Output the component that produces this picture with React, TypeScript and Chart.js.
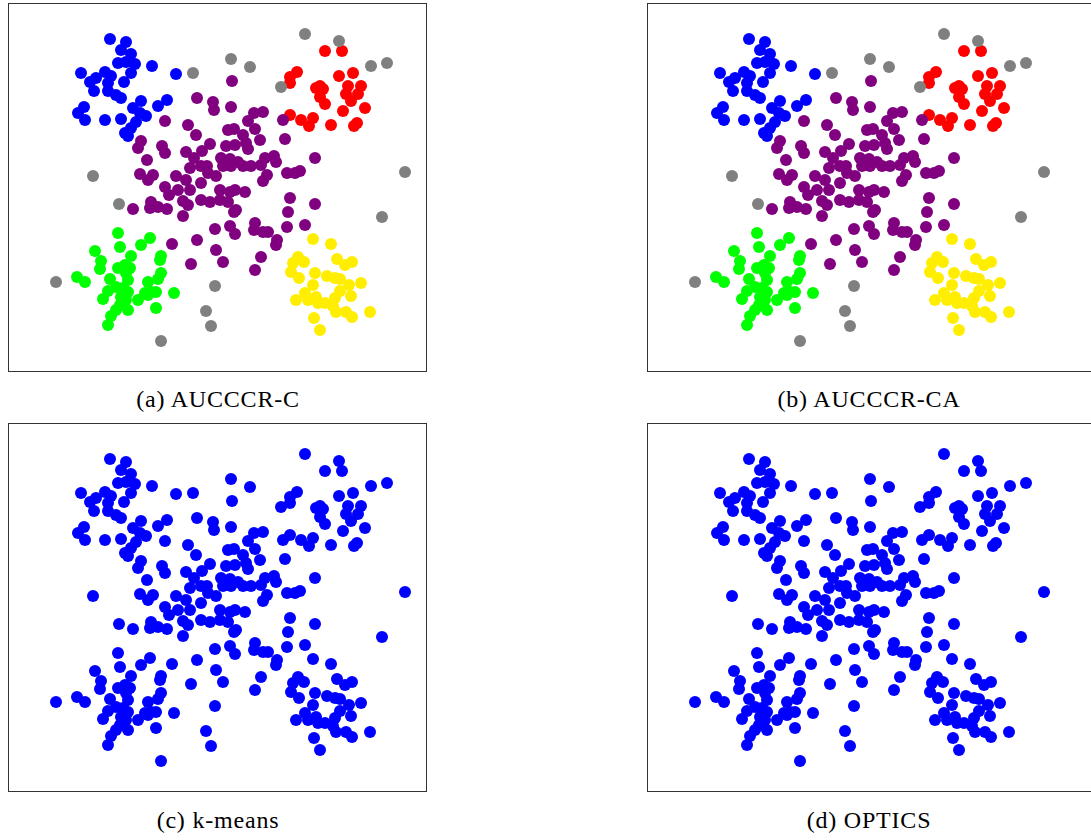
import React, { useEffect, useRef } from "react";
import { Chart, registerables } from "chart.js";
Chart.register(...registerables);

// Cluster points (x, y) (units: arbitrary plot units, y up)
const bluePts: [number, number][] = [
  [102, 333], [118, 330], [113, 322], [123, 318], [110, 309], [118, 310], [127, 308], [123, 299],
  [144, 306], [73, 299], [88, 294], [97, 300], [103, 296], [82, 290], [100, 289], [116, 290],
  [86, 281], [100, 281], [108, 277], [113, 274], [76, 265], [70, 259], [77, 252], [97, 252],
  [113, 253], [133, 271], [125, 264], [132, 259], [138, 256], [128, 250], [123, 244], [117, 239],
  [120, 236], [150, 266], [168, 298], [159, 272],
];
const grayPts: [number, number][] = [
  [185, 299], [223, 313], [242, 305], [273, 285], [297, 338], [331, 331], [363, 306], [379, 309],
  [397, 200], [85, 196], [111, 168], [48, 90], [207, 86], [198, 61], [203, 46], [153, 31], [374, 155],
];
const redPts: [number, number][] = [
  [317, 321], [334, 321], [289, 300], [282, 295], [282, 289], [331, 296], [345, 299], [312, 286],
  [308, 284], [315, 283], [312, 275], [317, 268], [340, 286], [353, 286], [338, 278], [350, 278],
  [343, 271], [335, 261], [357, 264], [282, 257], [293, 252], [305, 254], [301, 246], [323, 247],
  [349, 249], [346, 246],
];
const purplePts: [number, number][] = [
  [133, 231], [130, 224], [139, 212], [132, 198], [140, 192], [224, 291], [189, 274], [205, 270],
  [206, 262], [223, 265], [246, 259], [255, 260], [240, 251], [247, 243], [275, 252], [157, 251],
  [180, 247], [188, 237], [220, 242], [226, 243], [235, 237], [252, 232], [277, 233], [154, 226],
  [157, 219], [178, 220], [194, 221], [202, 228], [218, 226], [227, 227], [238, 229], [240, 223],
  [186, 214], [213, 214], [222, 213], [230, 210], [257, 214], [266, 216], [268, 210], [182, 204],
  [193, 206], [199, 206], [215, 206], [223, 206], [235, 206], [243, 206], [253, 207], [279, 199],
  [145, 197], [168, 196], [178, 192], [200, 199], [208, 196], [193, 189], [259, 197], [255, 191],
  [157, 185], [170, 182], [182, 182], [212, 182], [227, 182], [237, 180], [161, 177], [222, 180],
  [143, 170], [150, 165], [159, 163], [175, 171], [180, 167], [193, 172], [202, 170], [212, 172],
  [220, 170], [228, 162], [226, 160], [175, 156], [142, 164], [282, 174], [280, 160], [207, 143],
  [222, 146], [227, 138], [247, 149], [246, 142], [255, 140], [260, 140], [269, 132], [268, 127],
  [279, 145], [189, 132], [164, 128], [208, 122], [215, 110], [183, 108], [253, 115], [247, 102],
  [125, 163], [307, 168], [297, 147], [307, 214], [287, 199], [292, 201],
];
const greenPts: [number, number][] = [
  [142, 134], [153, 116], [152, 112], [153, 99], [150, 93], [140, 90], [148, 80], [166, 79],
  [140, 77], [148, 64], [110, 139], [112, 125], [87, 121], [93, 111], [92, 103], [123, 116],
  [133, 127], [110, 104], [117, 107], [122, 104], [118, 99], [69, 95], [77, 90], [102, 93],
  [120, 92], [100, 81], [108, 85], [95, 73], [115, 84], [120, 80], [113, 75], [118, 72],
  [130, 72], [137, 79], [143, 80], [112, 67], [120, 62], [108, 62], [103, 56], [100, 47],
];
const yellowPts: [number, number][] = [
  [305, 133], [323, 128], [290, 115], [285, 109], [296, 110], [329, 113], [337, 107], [344, 110],
  [283, 100], [291, 94], [307, 99], [319, 96], [327, 94], [332, 93], [305, 87], [341, 87],
  [353, 89], [332, 81], [343, 76], [297, 79], [288, 72], [300, 72], [308, 75], [310, 69],
  [317, 69], [327, 74], [325, 66], [328, 60], [338, 60], [344, 55], [362, 60], [306, 54], [312, 42],
];

const captions = ["(a) AUCCCR-C", "(b) AUCCCR-CA", "(c) k-means", "(d) OPTICS"];

const clusterSets = [
  { pts: grayPts, color: "#808080" },
  { pts: purplePts, color: "#800080" },
  { pts: bluePts, color: "#0000ff" },
  { pts: redPts, color: "#ff0000" },
  { pts: greenPts, color: "#00ff00" },
  { pts: yellowPts, color: "#ffee00" },
];

const framePlugin = {
  id: "frame",
  afterDraw(chart: any) {
    const { ctx, chartArea } = chart;
    const { left, top, right, bottom } = chartArea;
    ctx.save();
    ctx.strokeStyle = "#333333";
    ctx.lineWidth = 1;
    ctx.strokeRect(left + 0.5, top + 0.5, right - left - 1, bottom - top - 1);
    ctx.restore();
  },
};

const PAD = 2;

function Panel(props: {
  left: number;
  top: number;
  frameW: number;
  frameH: number;
  single: boolean;
}) {
  const ref = useRef<HTMLCanvasElement | null>(null);
  const { left, top, frameW, frameH, single } = props;
  const w = frameW + 2 * PAD;
  const h = frameH + 2 * PAD;
  useEffect(() => {
    if (!ref.current) return;
    const toXY = (p: [number, number][]) => p.map(([x, y]) => ({ x, y }));
    const datasets = single
      ? [
          {
            data: toXY(clusterSets.flatMap((c) => c.pts)),
            backgroundColor: "#0000ff",
            pointRadius: 6,
            pointBorderWidth: 0,
            pointHoverRadius: 6,
          },
        ]
      : clusterSets.map((c) => ({
          data: toXY(c.pts),
          backgroundColor: c.color,
          pointRadius: 6,
          pointBorderWidth: 0,
          pointHoverRadius: 6,
        }));
    const chart = new Chart(ref.current, {
      type: "scatter",
      data: { datasets: datasets as any },
      options: {
        animation: false,
        responsive: false,
        devicePixelRatio: 1,
        events: [],
        layout: { padding: PAD, autoPadding: false } as any,
        plugins: { legend: { display: false }, tooltip: { enabled: false } },
        scales: {
          x: { type: "linear", min: 0, max: frameW, display: false },
          y: { type: "linear", min: 0, max: frameH, display: false },
        },
      },
      plugins: [framePlugin],
    });
    return () => chart.destroy();
  }, [frameW, frameH, single]);
  return (
    <canvas
      ref={ref}
      width={w}
      height={h}
      style={{ position: "absolute", left: left - PAD, top: top - PAD, width: w, height: h }}
    />
  );
}

function Caption(props: { text: string; cx: number; cy: number }) {
  return (
    <div
      style={{
        position: "absolute",
        left: props.cx - 200,
        top: props.cy - 15,
        width: 400,
        height: 30,
        lineHeight: "30px",
        textAlign: "center",
        fontFamily: "'Liberation Serif', serif",
        fontSize: 24,
        letterSpacing: "0.8px",
        color: "#000",
      }}
    >
      {props.text}
    </div>
  );
}

export default function App() {
  return (
    <div
      style={{
        position: "fixed",
        left: 0,
        top: 0,
        width: 1091,
        height: 840,
        overflow: "hidden",
        background: "#fff",
      }}
    >
      <Panel left={8} top={3} frameW={419} frameH={369} single={false} />
      <Panel left={647} top={3} frameW={470} frameH={369} single={false} />
      <Panel left={8} top={423} frameW={419} frameH={369} single={true} />
      <Panel left={647} top={423} frameW={470} frameH={369} single={true} />
      <Caption text={captions[0]} cx={218} cy={399} />
      <Caption text={captions[1]} cx={869} cy={399} />
      <Caption text={captions[2]} cx={218} cy={820} />
      <Caption text={captions[3]} cx={869} cy={820} />
    </div>
  );
}
